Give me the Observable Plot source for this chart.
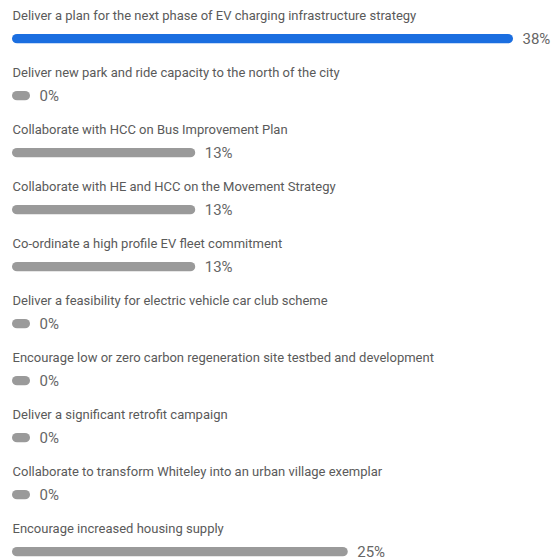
<!DOCTYPE html>
<html>
<head>
<meta charset="utf-8">
<script src="https://cdn.jsdelivr.net/npm/d3@7"></script>
<script src="https://cdn.jsdelivr.net/npm/@observablehq/plot@0.6"></script>
<style>
  html, body { margin: 0; padding: 0; background: #fff; }
  #chart svg { display: block; }
</style>
</head>
<body>
<div id="chart"></div>
<script>
const categories = [
  "Deliver a plan for the next phase of EV charging infrastructure strategy",
  "Deliver new park and ride capacity to the north of the city",
  "Collaborate with HCC on Bus Improvement Plan",
  "Collaborate with HE and HCC on the Movement Strategy",
  "Co-ordinate a high profile EV fleet commitment",
  "Deliver a feasibility for electric vehicle car club scheme",
  "Encourage low or zero carbon regeneration site testbed and development",
  "Deliver a significant retrofit campaign",
  "Collaborate to transform Whiteley into an urban village exemplar",
  "Encourage increased housing supply"
];
const percents = [38, 0, 13, 13, 13, 0, 0, 0, 0, 25];

const maxVal = d3.max(percents);
const data = categories.map((c, i) => ({category: c, value: percents[i], top: percents[i] === maxVal}));

const rowH = 57.2;
const chart = Plot.plot({
  width: 554,
  height: 560,
  marginLeft: 12,
  marginRight: 59,
  marginTop: 0,
  marginBottom: 0,
  style: {fontFamily: "Roboto, sans-serif", background: "#fff"},
  x: {domain: [0, 38], axis: null},
  y: {type: "band", domain: categories, range: [0, rowH * categories.length], padding: 0, axis: null},
  color: {domain: [true, false], range: ["#1b6ee0", "#9a9a9a"]},
  marks: [
    Plot.barX(data, {
      y: "category", x1: 0, x2: "value",
      fill: d => d.top,
      insetTop: 33, insetBottom: rowH - 42.5, insetRight: -18, rx: 5
    }),
    Plot.text(data, {
      y: "category", x: 0, text: "category",
      textAnchor: "start", lineAnchor: "bottom", dy: 19 - rowH / 2,
      fontSize: 13, fill: "#5a5a5a"
    }),
    Plot.text(data, {
      y: "category", x: "value", text: d => d.value + "%",
      textAnchor: "start", lineAnchor: "middle", dx: 27, dy: 38 - rowH / 2,
      fontSize: 15, fill: "#666"
    })
  ]
});
document.getElementById("chart").appendChild(chart);
</script>
</body>
</html>
